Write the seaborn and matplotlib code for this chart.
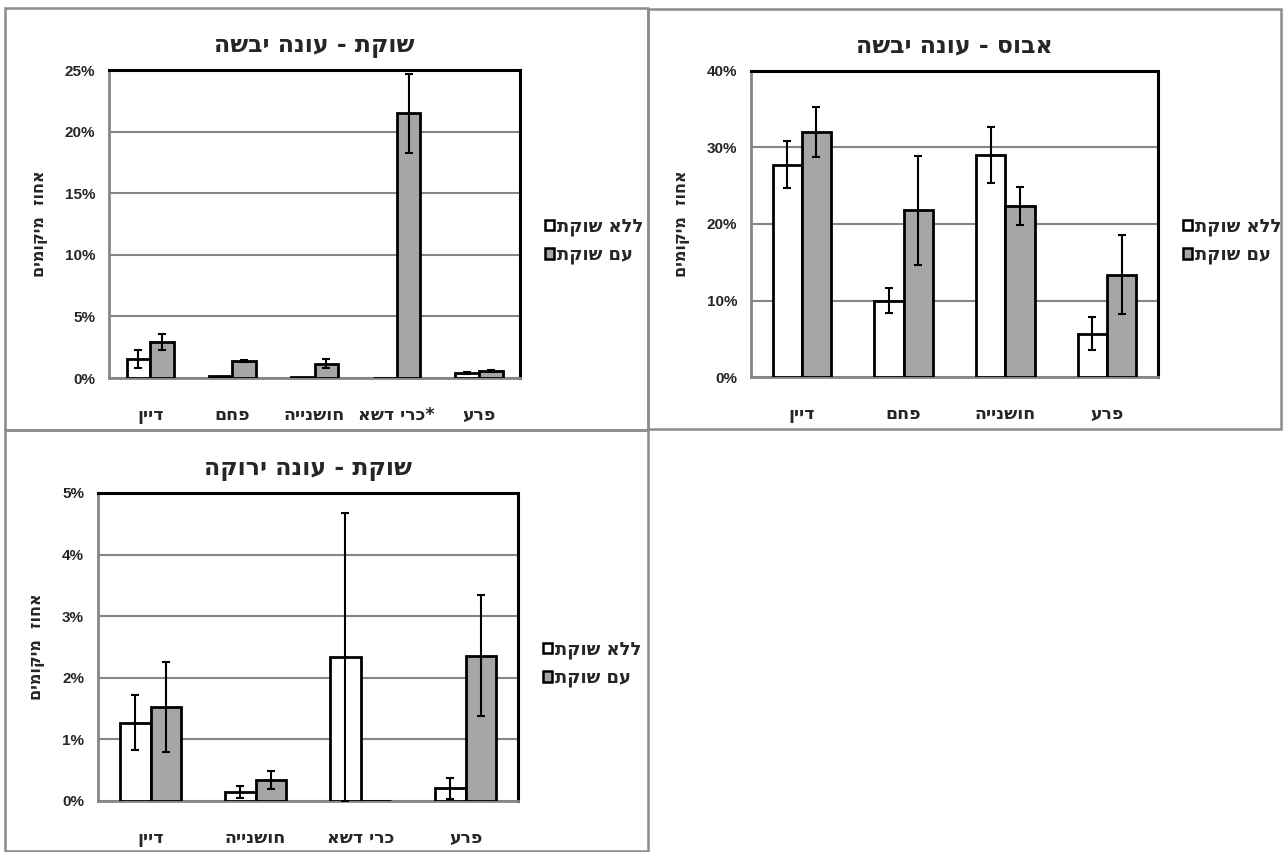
import matplotlib
matplotlib.use("Agg")
import matplotlib.pyplot as plt
from matplotlib.patches import Patch, Rectangle
from matplotlib.ticker import FuncFormatter
import pandas as pd
import seaborn as sns

sns.set_style("white")
# DejaVu has real bold hebrew glyphs, Liberation falls back to regular weight
plt.rcParams['font.family'] = ['DejaVu Sans', 'Liberation Sans']
plt.rcParams['font.weight'] = 'bold'


def rtl(s):
    # no bidi in matplotlib, so hebrew goes in visual order
    return s[::-1]


groups = ["ללא שוקת", "עם שוקת"]
colors = ["white", "#a6a6a6"]
y_label = "אחוז  מיקומים"

# שוקת - עונה יבשה
title1 = "שוקת - עונה יבשה"
cats1 = ["דיין", "פחם", "חושנייה", "*כרי דשא", "פרע"]
without1 = [1.55, 0.15, 0.05, 0.0, 0.43]
without1_err = [0.75, 0.0, 0.0, 0.0, 0.1]
with1 = [2.93, 1.38, 1.16, 21.48, 0.57]
with1_err = [0.62, 0.1, 0.37, 3.2, 0.07]
ticks1 = [0, 5, 10, 15, 20, 25]

# אבוס - עונה יבשה
title2 = "אבוס - עונה יבשה"
cats2 = ["דיין", "פחם", "חושנייה", "פרע"]
without2 = [27.74, 9.99, 29.0, 5.67]
without2_err = [3.05, 1.6, 3.65, 2.2]
with2 = [32.02, 21.77, 22.33, 13.35]
with2_err = [3.25, 7.15, 2.5, 5.15]
ticks2 = [0, 10, 20, 30, 40]

# שוקת - עונה ירוקה
title3 = "שוקת - עונה ירוקה"
cats3 = ["דיין", "חושנייה", "כרי דשא", "פרע"]
without3 = [1.27, 0.14, 2.34, 0.21]
without3_err = [0.445, 0.095, 2.34, 0.17]
with3 = [1.52, 0.34, 0.0, 2.36]
with3_err = [0.73, 0.15, 0.0, 0.98]
ticks3 = [0, 1, 2, 3, 4, 5]

fig = plt.figure(figsize=(12.83, 8.52), dpi=100)


def panel(rect, title, cats, without, without_err, with_, with_err, ticks):
    ax = fig.add_axes(rect)
    df = pd.DataFrame({
        "cat": [rtl(c) for c in cats] * 2,
        "group": [rtl(groups[0])] * len(cats) + [rtl(groups[1])] * len(cats),
        "val": without + with_,
    })
    sns.barplot(data=df, x="cat", y="val", hue="group",
                palette=colors, width=0.575, edgecolor="black", linewidth=2,
                legend=False, ax=ax, zorder=3)
    errs = without_err + with_err
    for p, e in zip(ax.patches, errs):
        if e > 0:
            ax.errorbar(p.get_x() + p.get_width() / 2, p.get_height(), yerr=e,
                        fmt="none", ecolor="black", elinewidth=1.5,
                        capsize=3, capthick=1.5, zorder=4)
    ax.set_ylim(ticks[0], ticks[-1])
    ax.set_xlim(-0.5, len(cats) - 0.5)
    ax.set_yticks(ticks)
    ax.yaxis.set_major_formatter(FuncFormatter(lambda v, p: f"{v:.0f}%"))
    ax.set_xticks(range(len(cats)))
    ax.set_xticks([i - 0.5 for i in range(len(cats) + 1)], minor=True)
    ax.tick_params(axis="x", which="major", length=0, pad=20, labelsize=12.5)
    ax.tick_params(axis="x", which="minor", length=6, width=1.5, color="#868686", direction="out")
    ax.tick_params(axis="y", length=6, width=1.5, color="#868686", direction="out", labelsize=11, pad=4)
    for t in ax.get_yticklabels():
        t.set_fontfamily("Liberation Sans")
    ax.yaxis.grid(True, color="#868686", linewidth=1.5, zorder=0)
    ax.set_axisbelow(True)
    for s in ["left", "bottom"]:
        ax.spines[s].set_color("#868686")
        ax.spines[s].set_linewidth(2)
    for s in ["top", "right"]:
        ax.spines[s].set_color("black")
        ax.spines[s].set_linewidth(2.2)
    ax.set_xlabel("")
    ax.set_ylabel(rtl(y_label), fontsize=11.5, fontweight="bold", labelpad=12)
    ax.set_title(rtl(title), fontsize=17, fontweight="bold", pad=13)
    handles = [Patch(facecolor=c, edgecolor="black", linewidth=1.8) for c in colors]
    w_px = rect[2] * 1283
    ax.legend(handles, [rtl(g) for g in groups], loc="center left",
              bbox_to_anchor=(1 + 25 / w_px, 0.445), frameon=False,
              borderaxespad=0, borderpad=0,
              handlelength=0.5, handleheight=0.5, handletextpad=0.15,
              labelspacing=0.55, prop={"weight": "bold", "size": 13})
    return ax


panel([0.0850, 0.5563, 0.3203, 0.3615], title1, cats1, without1, without1_err,
      with1, with1_err, ticks1)
panel([0.5853, 0.5575, 0.3172, 0.3592], title2, cats2, without2, without2_err,
      with2, with2_err, ticks2)
panel([0.0764, 0.0599, 0.3274, 0.3615], title3, cats3, without3, without3_err,
      with3, with3_err, ticks3)

# chart frames
W, H = 1283, 852
for x0, y0, x1, y1 in [(5, 8, 648, 430), (648, 9, 1281, 429), (5, 430, 648, 851)]:
    fig.add_artist(Rectangle((x0 / W, 1 - y1 / H), (x1 - x0) / W, (y1 - y0) / H,
                             transform=fig.transFigure, fill=False,
                             edgecolor="#8c8c8c", linewidth=1.8))

fig.savefig("out.png", dpi=100)
